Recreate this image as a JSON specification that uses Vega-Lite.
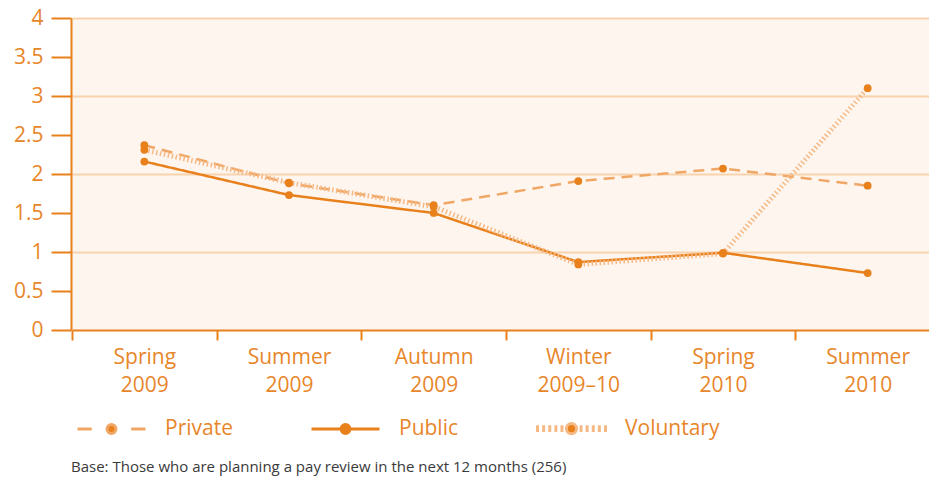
{
  "$schema": "https://vega.github.io/schema/vega-lite/v6.json",
  "width": 858,
  "height": 312,
  "autosize": "none",
  "padding": {"left": 71, "top": 18, "right": 0, "bottom": 150},
  "background": "#ffffff",
  "config": {
    "view": {"fill": "#fdf5ee", "stroke": null},
    "font": "Open Sans"
  },
  "title": {
    "text": "Base: Those who are planning a pay review in the next 12 months (256)",
    "orient": "bottom",
    "anchor": "start",
    "frame": "group",
    "fontSize": 15,
    "fontWeight": "normal",
    "color": "#3a3a3a",
    "offset": 20
  },
  "data": {
    "values": [
      {"period": "Spring 2009", "series": "Private", "value": 2.37},
      {"period": "Summer 2009", "series": "Private", "value": 1.88},
      {"period": "Autumn 2009", "series": "Private", "value": 1.6},
      {"period": "Winter 2009–10", "series": "Private", "value": 1.91},
      {"period": "Spring 2010", "series": "Private", "value": 2.07},
      {"period": "Summer 2010", "series": "Private", "value": 1.85},
      {"period": "Spring 2009", "series": "Public", "value": 2.16},
      {"period": "Summer 2009", "series": "Public", "value": 1.73},
      {"period": "Autumn 2009", "series": "Public", "value": 1.5},
      {"period": "Winter 2009–10", "series": "Public", "value": 0.87},
      {"period": "Spring 2010", "series": "Public", "value": 0.99},
      {"period": "Summer 2010", "series": "Public", "value": 0.73},
      {"period": "Spring 2009", "series": "Voluntary", "value": 2.31},
      {"period": "Summer 2009", "series": "Voluntary", "value": 1.89},
      {"period": "Autumn 2009", "series": "Voluntary", "value": 1.58},
      {"period": "Winter 2009–10", "series": "Voluntary", "value": 0.84},
      {"period": "Spring 2010", "series": "Voluntary", "value": 0.98},
      {"period": "Summer 2010", "series": "Voluntary", "value": 3.1}
    ]
  },
  "encoding": {
    "x": {
      "field": "period",
      "type": "nominal",
      "sort": ["Spring 2009", "Summer 2009", "Autumn 2009", "Winter 2009–10", "Spring 2010", "Summer 2010"],
      "scale": {"type": "band", "range": [1, 869], "paddingInner": 0, "paddingOuter": 0},
      "axis": {
        "title": null,
        "labelAngle": 0,
        "labelExpr": "datum.value ? split(datum.value, ' ') : ''",
        "labelFontSize": 21,
        "labelColor": "#e8862a",
        "labelLineHeight": 28,
        "labelPadding": 6,
        "labelBaseline": "top",
        "domainColor": "#e8801c",
        "domainWidth": 2,
        "tickColor": "#e8801c",
        "tickWidth": 2,
        "tickSize": 10,
        "tickBand": "extent",
        "grid": false
      }
    },
    "y": {
      "field": "value",
      "type": "quantitative",
      "scale": {"domain": [0, 4], "nice": false},
      "axis": {
        "title": null,
        "values": [0, 0.5, 1, 1.5, 2, 2.5, 3, 3.5, 4],
        "format": ".1~f",
        "labelFontSize": 21,
        "labelColor": "#e8862a",
        "labelPadding": 8,
        "domainColor": "#e8801c",
        "domainWidth": 2,
        "tickColor": "#e8801c",
        "tickWidth": 2,
        "tickSize": 20,
        "grid": true,
        "gridColor": "#f9d3ae",
        "gridWidth": 2,
        "gridOpacity": {"condition": {"test": "datum.value % 1 !== 0 || datum.value === 0", "value": 0}, "value": 1}
      }
    },
    "color": {
      "field": "series",
      "type": "nominal",
      "scale": {"domain": ["Private", "Public", "Voluntary"], "range": ["#f0a766", "#e8801c", "#f5b985"]},
      "legend": {
        "title": null,
        "orient": "none",
        "legendX": 5,
        "legendY": 375,
        "direction": "horizontal",
        "padding": 0,
        "symbolSize": 4624,
        "symbolStrokeWidth": 3,
        "labelFontSize": 21,
        "labelColor": "#e8862a",
        "labelOffset": 18,
        "columnPadding": 72,
        "encode": {
          "symbols": {
            "update": {
              "shape": {"signal": "datum.value === 'Private' ? 'M-1,0H-0.58M0.58,0H1M0.13,0A0.13,0.13 0 1,1 -0.13,0A0.13,0.13 0 1,1 0.13,0Z' : datum.value === 'Public' ? 'M-1,0H1M0.13,0A0.13,0.13 0 1,1 -0.13,0A0.13,0.13 0 1,1 0.13,0Z' : 'M-1,-0.1V0.1M-0.82,-0.1V0.1M-0.64,-0.1V0.1M-0.46,-0.1V0.1M-0.28,-0.1V0.1M0.28,-0.1V0.1M0.46,-0.1V0.1M0.64,-0.1V0.1M0.82,-0.1V0.1M1,-0.1V0.1M0.15,0A0.15,0.15 0 1,1 -0.15,0A0.15,0.15 0 1,1 0.15,0Z'"},
              "fill": {"value": "#e8801c"},
              "fillOpacity": {"value": 1},
              "strokeDash": {"value": []}
            }
          }
        }
      }
    }
  },
  "layer": [
    {
      "transform": [{"filter": "datum.series !== 'Voluntary'"}],
      "mark": {"type": "line", "strokeWidth": 2.5},
      "encoding": {
        "strokeDash": {
          "field": "series",
          "type": "nominal",
          "scale": {"domain": ["Private", "Public"], "range": [[11, 7], [1, 0]]},
          "legend": null
        }
      }
    },
    {
      "transform": [{"filter": "datum.series === 'Voluntary'"}],
      "mark": {"type": "line", "strokeWidth": 5, "strokeDash": [1.5, 2.5]},
      "encoding": {}
    },
    {
      "mark": {"type": "point", "filled": true, "size": 60, "opacity": 1, "color": "#e8801c"},
      "encoding": {
        "detail": {"field": "series", "type": "nominal"},
        "color": {"value": "#e8801c"}
      }
    }
  ]
}
